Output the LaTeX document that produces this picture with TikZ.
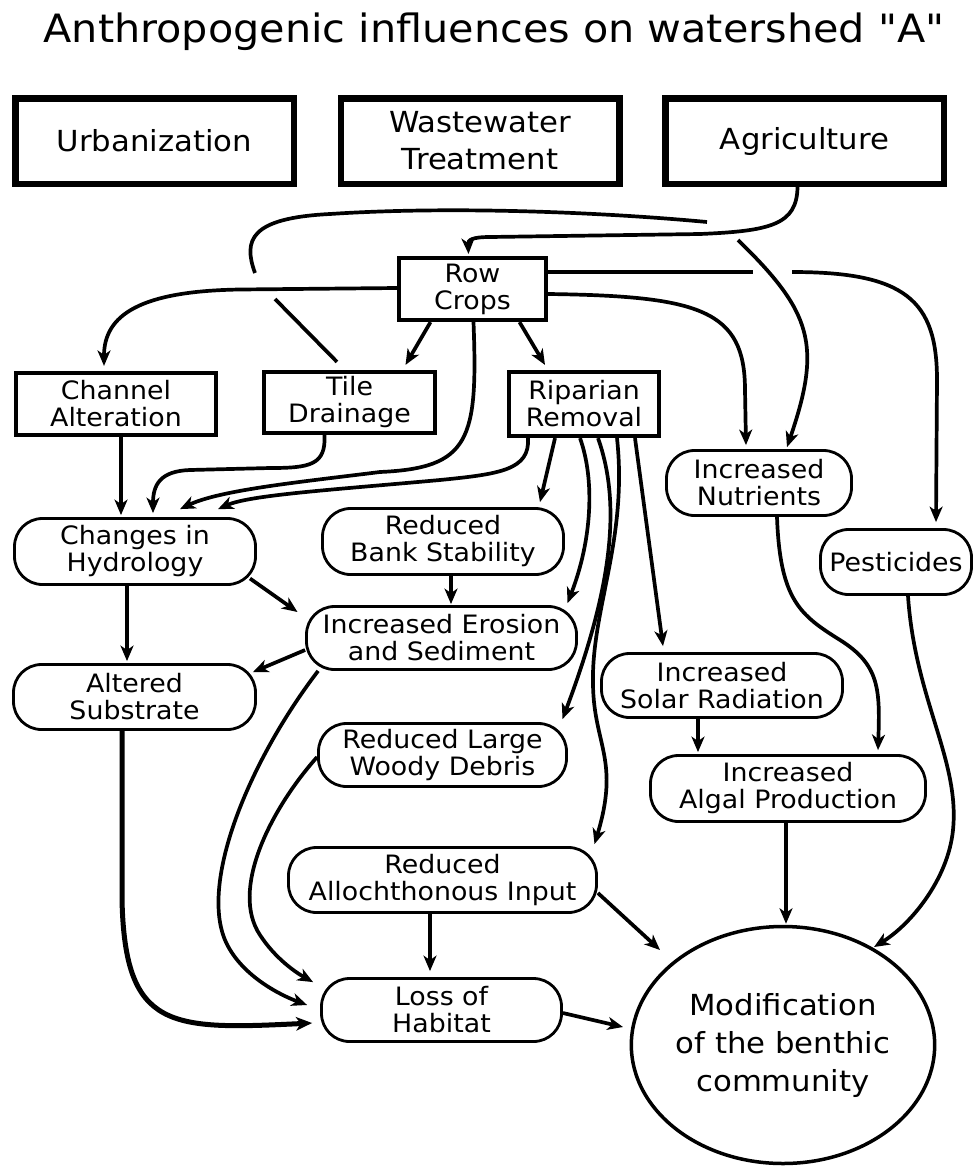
\documentclass[tikz,border=0pt]{standalone}
\usepackage{fontspec}
\setmainfont{DejaVu Sans}[FakeStretch=1.06]
\newfontfamily\titlefont{DejaVu Sans}[FakeStretch=1.06]
\usetikzlibrary{arrows.meta,calc,shapes.geometric}
\begin{document}
\begin{tikzpicture}[x=1pt,y=-1pt,
  arr/.style={line width=3.7pt,-{Stealth[length=15.5pt,width=13pt,inset=4.5pt]}},
  thickarr/.style={line width=5pt,-{Stealth[length=16pt,width=13.5pt,inset=4.5pt]}},
  ln/.style={line width=3.7pt},
  topbox/.style={draw,line width=6.5pt,minimum width=278.5pt,minimum height=85.5pt,inner sep=0pt,align=center,font=\fontsize{29}{37}\selectfont},
  sqbox/.style={draw,line width=4.2pt,inner sep=0pt,align=center,font=\fontsize{25.3}{27}\selectfont},
  rbox/.style={draw,line width=2.8pt,rounded corners=28pt,inner sep=0pt,align=center,font=\fontsize{25.3}{27}\selectfont},
]
\fill[white] (0,0) rectangle (975,1168);
\useasboundingbox (0,0) rectangle (975,1168);

\node[anchor=base,font=\titlefont\fontsize{39}{45}\selectfont] (title) at (494,42) {Anthropogenic influences on watershed "A"};

\node[topbox] (urb) at (154.5,141) {Urbanization};
\node[topbox] (wwt) at (480,141) {Wastewater\\Treatment};
\node[topbox] (agri) at (804.5,141) {Agriculture};

\node[sqbox,minimum width=147pt,minimum height=62pt] (rc) at (472.5,289) {Row\\Crops};
\node[sqbox,minimum width=200pt,minimum height=62pt] (ca) at (116,404) {Channel\\Alteration};
\node[sqbox,minimum width=171pt,minimum height=61pt] (td) at (349.5,402.5) {Tile\\Drainage};
\node[sqbox,minimum width=150pt,minimum height=64pt] (rr) at (584,404) {Riparian\\Removal};

\node[rbox,minimum width=241pt,minimum height=66pt] (cih) at (135,551.5) {Changes in\\Hydrology};
\node[rbox,minimum width=241pt,minimum height=66pt] (rbs) at (443,541.5) {Reduced\\Bank Stability};
\node[rbox,minimum width=270pt,minimum height=63pt] (ies) at (441.5,638) {Increased Erosion\\and Sediment};
\node[rbox,minimum width=185pt,minimum height=65pt] (inut) at (759,483) {Increased\\Nutrients};
\node[rbox,minimum width=151pt,minimum height=65pt] (pes) at (896,562) {Pesticides};
\node[rbox,minimum width=242pt,minimum height=65pt] (alt) at (134.5,697) {Altered\\Substrate};
\node[rbox,minimum width=248pt,minimum height=63pt] (rlwd) at (442.5,755) {Reduced Large\\Woody Debris};
\node[rbox,minimum width=308pt,minimum height=65pt] (rai) at (442.5,880) {Reduced\\Allochthonous Input};
\node[rbox,minimum width=240pt,minimum height=63pt] (loh) at (441.5,1010) {Loss of\\Habitat};
\node[rbox,minimum width=241pt,minimum height=64pt] (isr) at (722,685.5) {Increased\\Solar Radiation};
\node[rbox,minimum width=275pt,minimum height=66pt] (iap) at (788,788.5) {Increased\\Algal Production};

\node[ellipse,draw,line width=3.5pt,inner sep=0pt,minimum width=293pt,minimum height=237pt,align=center,font=\fontsize{29}{38}\selectfont] (mod) at (783,1045) {Modification\\of the benthic\\community};

% hop points
\coordinate (h1a) at (275,299);
\coordinate (h1b) at (255,273);
\coordinate (h2a) at (707,222);
\coordinate (h2b) at (738,240);
\coordinate (h3a) at (753,272);
\coordinate (h3b) at (792,272);

% Agriculture -> Row Crops
\draw[arr] ($(agri.south)+(-7,0)$) .. controls (797,225) and (770,231) .. (700,234) -- (490,237) .. controls (472,237) and (468,240) .. ($(rc.north)+(-4,-2)$);

% Tile Drainage -> Increased Nutrients (with hops)
\draw[ln] ($(td.north)+(-12.5,-8)$) -- (h1a);
\draw[ln] (h1b) .. controls (243,240) and (250,218) .. (330,214) .. controls (450,206) and (600,212) .. (h2a);
\draw[arr] (h2b) .. controls (812,312) and (822,345) .. ($(inut.north)+(28,-2)$);

% Row Crops -> Pesticides (with hop)
\draw[ln] ($(rc.east)+(0,-17)$) -- (h3a);
\draw[arr] (h3b) .. controls (905,272) and (937,300) .. (937,380) -- ($(pes.north)+(40,-6)$);

% Row Crops -> Increased Nutrients
\draw[arr] ($(rc.east)+(0,5)$) .. controls (700,296) and (745,310) .. (745,390) -- ($(inut.north)+(-13,-4)$);

% Row Crops -> Channel Alteration
\draw[arr] ($(rc.west)+(0,-1)$) -- (240,289.5) .. controls (140,291) and (104,315) .. ($(ca.north)+(-12,-5)$);

% Row Crops -> Tile Drainage, Riparian Removal
\draw[arr] ($(rc.south)+(-42,0)$) -- ($(td.north)+(56,-5)$);
\draw[arr] ($(rc.south)+(47,0)$) -- ($(rr.north)+(-39,-5)$);

% Row Crops -> Changes in Hydrology
\draw[arr] ($(rc.south)+(1,0)$) .. controls (478,440) and (470,468) .. (380,472) .. controls (300,482) and (220,490) .. ($(cih.north)+(45,-8)$);
% Riparian -> Changes in Hydrology
\draw[arr] ($(rr.south)+(-56,0)$) .. controls (530,470) and (500,474) .. (440,480) .. controls (330,490) and (250,495) .. ($(cih.north)+(83,-8)$);
% Tile -> Changes in Hydrology
\draw[arr] ($(td.south)+(-25,0)$) .. controls (326,465) and (310,468) .. (270,468) -- (190,470) .. controls (160,471) and (153,485) .. ($(cih.north)+(18,-4)$);
% Channel -> Changes in Hydrology
\draw[arr] ($(ca.south)+(5,0)$) -- ($(cih.north)+(-14,-2)$);

% Changes in Hydrology -> Altered Substrate, Erosion
\draw[arr] ($(cih.south)+(-8,0)$) -- ($(alt.north)+(-7.5,-2)$);
\draw[arr] ($(cih.center)+(115,27)$) -- ($(ies.center)+(-144,-26)$);

% Bank Stability -> Erosion
\draw[arr] ($(rbs.south)+(8,0)$) -- ($(ies.north)+(9.5,-1)$);

% Riparian -> ...
\draw[arr] ($(rr.south)+(-29,0)$) -- ($(rbs.north)+(97,-5)$);
\draw[arr] ($(rr.south)+(-4,0)$) .. controls (595,480) and (592,540) .. ($(ies.north)+(126,-2)$);
\draw[arr] ($(rr.south)+(14,0)$) .. controls (620,500) and (615,580) .. ($(rlwd.north)+(120,-3)$);
\draw[arr] ($(rr.south)+(33,0)$) .. controls (628,540) and (591,610) .. (593,685) .. controls (594,745) and (620,760) .. ($(rai.north)+(152,-2)$);
\draw[arr] ($(rr.south)+(51,0)$) -- ($(isr.north)+(-59,-6)$);

% Erosion -> Altered Substrate, Loss of Habitat
\draw[arr] ($(ies.west)+(0,12)$) -- ($(alt.north east)+(-4,9)$);
\draw[arr] ($(ies.south west)+(13,0)$) .. controls (250,760) and (200,880) .. (225,940) .. controls (240,975) and (280,995) .. ($(loh.west)+(-13,-5)$);

% Large Woody Debris -> Loss of Habitat
\draw[arr] ($(rlwd.west)+(0,2)$) .. controls (270,810) and (230,890) .. (260,935) .. controls (275,958) and (295,972) .. ($(loh.north west)+(-7,5)$);

% Altered Substrate -> Loss of Habitat
\draw[thickarr] ($(alt.south)+(-12.5,0)$) -- (122,900) .. controls (125,1030) and (170,1030) .. ($(loh.west)+(-8,13)$);

% Allochthonous -> Loss of Habitat, Modification
\draw[arr] ($(rai.south)+(-12.5,0)$) -- ($(loh.north)+(-11.5,-6)$);
\draw[arr] ($(rai.east)+(0,13)$) -- ($(mod.center)+(-123,-95)$);

% Loss of Habitat -> Modification
\draw[arr] ($(loh.east)+(0,3)$) -- ($(mod.center)+(-160,-18)$);

% Solar -> Algal, Nutrients -> Algal, Algal -> Modification
\draw[arr] ($(isr.south)+(-24,0)$) -- ($(iap.north)+(-90,-2)$);
\draw[arr] ($(inut.south)+(18,0)$) .. controls (780,600) and (800,615) .. (840,640) .. controls (880,665) and (880,690) .. ($(iap.north)+(90,-4)$);
\draw[arr] ($(iap.south)+(-2,0)$) -- ($(mod.north)+(3,-1)$);

% Pesticides -> Modification
\draw[arr] ($(pes.south)+(12,0)$) .. controls (915,700) and (960,760) .. (953,830) .. controls (948,880) and (910,925) .. ($(mod.center)+(91,-98)$);
\end{tikzpicture}
\end{document}
